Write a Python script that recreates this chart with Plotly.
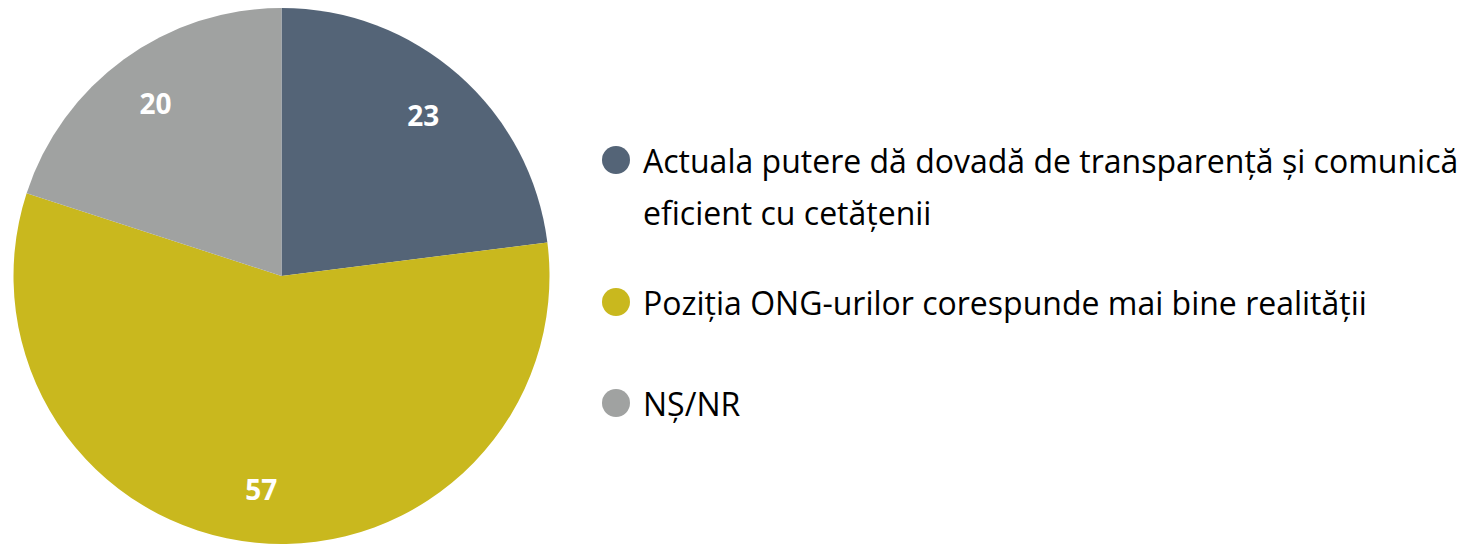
import plotly.graph_objects as go

labels = [
    "Actuala putere dă dovadă de transparență și comunică<br>eficient cu cetățenii",
    "Poziția ONG-urilor corespunde mai bine realității",
    "NȘ/NR",
]
values = [23, 57, 20]
colors = ["#546477", "#C9B81E", "#A0A2A1"]

W, H = 1473, 545
OFF = 8  # page body margin
FONT = "Open Sans"

cxp, cyp, R = 281.5 - OFF, 276 - OFF, 268
dom = dict(x=[(cxp - R) / W, (cxp + R) / W], y=[(H - cyp - R) / H, (H - cyp + R) / H])
flat = [l.replace("<br>", " ") for l in labels]

fig = go.Figure()
fig.add_trace(go.Pie(
    labels=flat, values=values,
    marker=dict(colors=colors, line=dict(width=0)),
    sort=False, direction="clockwise", rotation=0,
    textinfo="none", showlegend=False,
    hoverinfo="label+value", domain=dom,
))
# transparent ring used only to place the value labels near the rim
fig.add_trace(go.Pie(
    labels=flat, values=values, hole=0.6,
    marker=dict(colors=["rgba(0,0,0,0)"] * len(values), line=dict(width=0)),
    sort=False, direction="clockwise", rotation=0,
    texttemplate="%{value}", textposition="inside",
    insidetextorientation="horizontal",
    textfont=dict(family=FONT, size=28, color="white", weight="bold"),
    showlegend=False, hoverinfo="skip", domain=dom,
))

legend_y = [160, 302, 403]
line_gap = 52
cx = 616
r = 14
text_x = 643
for lab, col, yc in zip(labels, colors, legend_y):
    yy = yc - OFF
    xx = cx - OFF
    fig.add_shape(type="circle", xref="paper", yref="paper",
                  x0=(xx - r) / W, x1=(xx + r) / W,
                  y0=1 - (yy + r) / H, y1=1 - (yy - r) / H,
                  fillcolor=col, line=dict(width=0))
    for i, part in enumerate(lab.split("<br>")):
        fig.add_annotation(text=part, xref="paper", yref="paper",
                           x=(text_x - OFF - 2) / W, y=1 - (yy + i * line_gap) / H,
                           xanchor="left", yanchor="middle", showarrow=False,
                           font=dict(family=FONT, size=32, color="#000000"))

fig.update_layout(
    width=W, height=H,
    margin=dict(l=0, r=0, t=0, b=0),
    paper_bgcolor="white", plot_bgcolor="white",
    font=dict(family=FONT),
)
fig.write_html("out.html")
